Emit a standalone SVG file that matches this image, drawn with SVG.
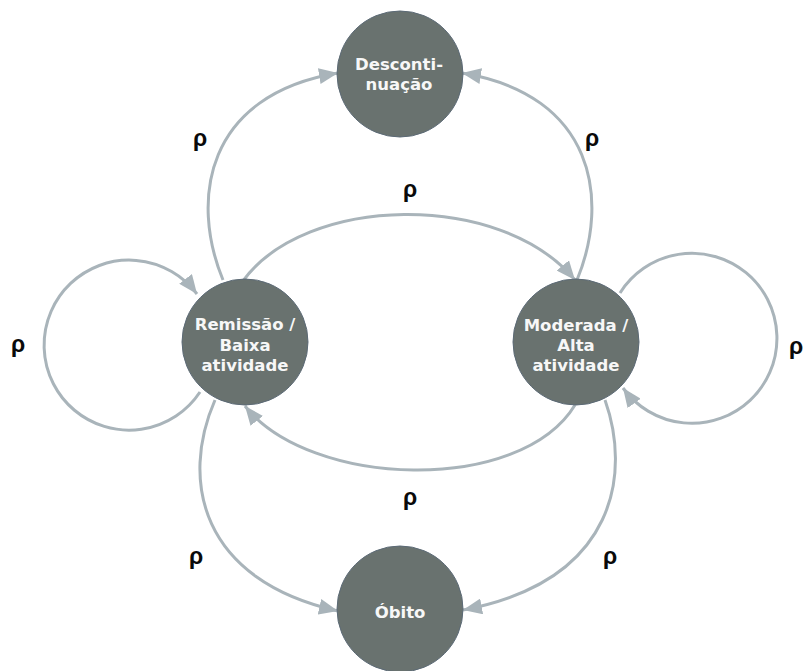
<svg xmlns="http://www.w3.org/2000/svg" width="805" height="671" viewBox="0 0 805 671">
<style>
.node circle{fill:#69726f;stroke:#5c6a76;stroke-width:1}
.node text{fill:#f7f7f7;font-family:"DejaVu Sans",Verdana,sans-serif;font-weight:bold;font-size:16.5px;text-anchor:middle}
.edge{fill:none;stroke:#a9b4ba;stroke-width:3;marker-end:url(#arr)}
.lbl{fill:#0a0a0a;font-family:"Liberation Sans",Arial,sans-serif;font-weight:bold;font-size:23px;text-anchor:middle}
</style>
<defs>
<marker id="arr" markerUnits="userSpaceOnUse" markerWidth="20" markerHeight="16" refX="19" refY="8" orient="auto">
<path d="M0,0 L19,8 L0,16 z" fill="#a9b4ba"/>
</marker>
</defs>
<rect width="805" height="671" fill="#fff"/>
<g id="connectors">
<path class="edge" d="M223,280 C190,200 205,95 338,73"/>
<path class="edge" d="M577,280 C610,200 595,95 462,73"/>
<path class="edge" d="M243,281 C305,195 500,190 575,280"/>
<path class="edge" d="M575,405 C520,495 310,488 245,406"/>
<path class="edge" d="M215,400 C180,480 200,580 338,611"/>
<path class="edge" d="M605,400 C630,470 620,580 463,610"/>
<path class="edge" d="M200,392 A85,85 0 1 1 197,294"/>
<path class="edge" d="M620,293 A85,85 0 1 1 623,388"/>
<text class="lbl" x="200" y="146">ρ</text>
<text class="lbl" x="592" y="146">ρ</text>
<text class="lbl" x="410" y="197">ρ</text>
<text class="lbl" x="410" y="505">ρ</text>
<text class="lbl" x="196" y="564">ρ</text>
<text class="lbl" x="610" y="564">ρ</text>
<text class="lbl" x="18" y="352">ρ</text>
<text class="lbl" x="796" y="354">ρ</text>
</g>
<g id="descontinuacao" class="node">
<circle cx="400" cy="74" r="63"/>
<text x="399" y="70">Desconti-</text>
<text x="399" y="90">nuação</text>
</g>
<g id="remissao" class="node">
<circle cx="245" cy="342" r="63"/>
<text x="245" y="330">Remissão /</text>
<text x="245" y="351">Baixa</text>
<text x="245" y="371">atividade</text>
</g>
<g id="moderada" class="node">
<circle cx="576" cy="342" r="63"/>
<text x="576" y="331">Moderada /</text>
<text x="576" y="351">Alta</text>
<text x="576" y="371">atividade</text>
</g>
<g id="obito" class="node">
<circle cx="400" cy="609" r="63"/>
<text x="400" y="618">Óbito</text>
</g>
</svg>
